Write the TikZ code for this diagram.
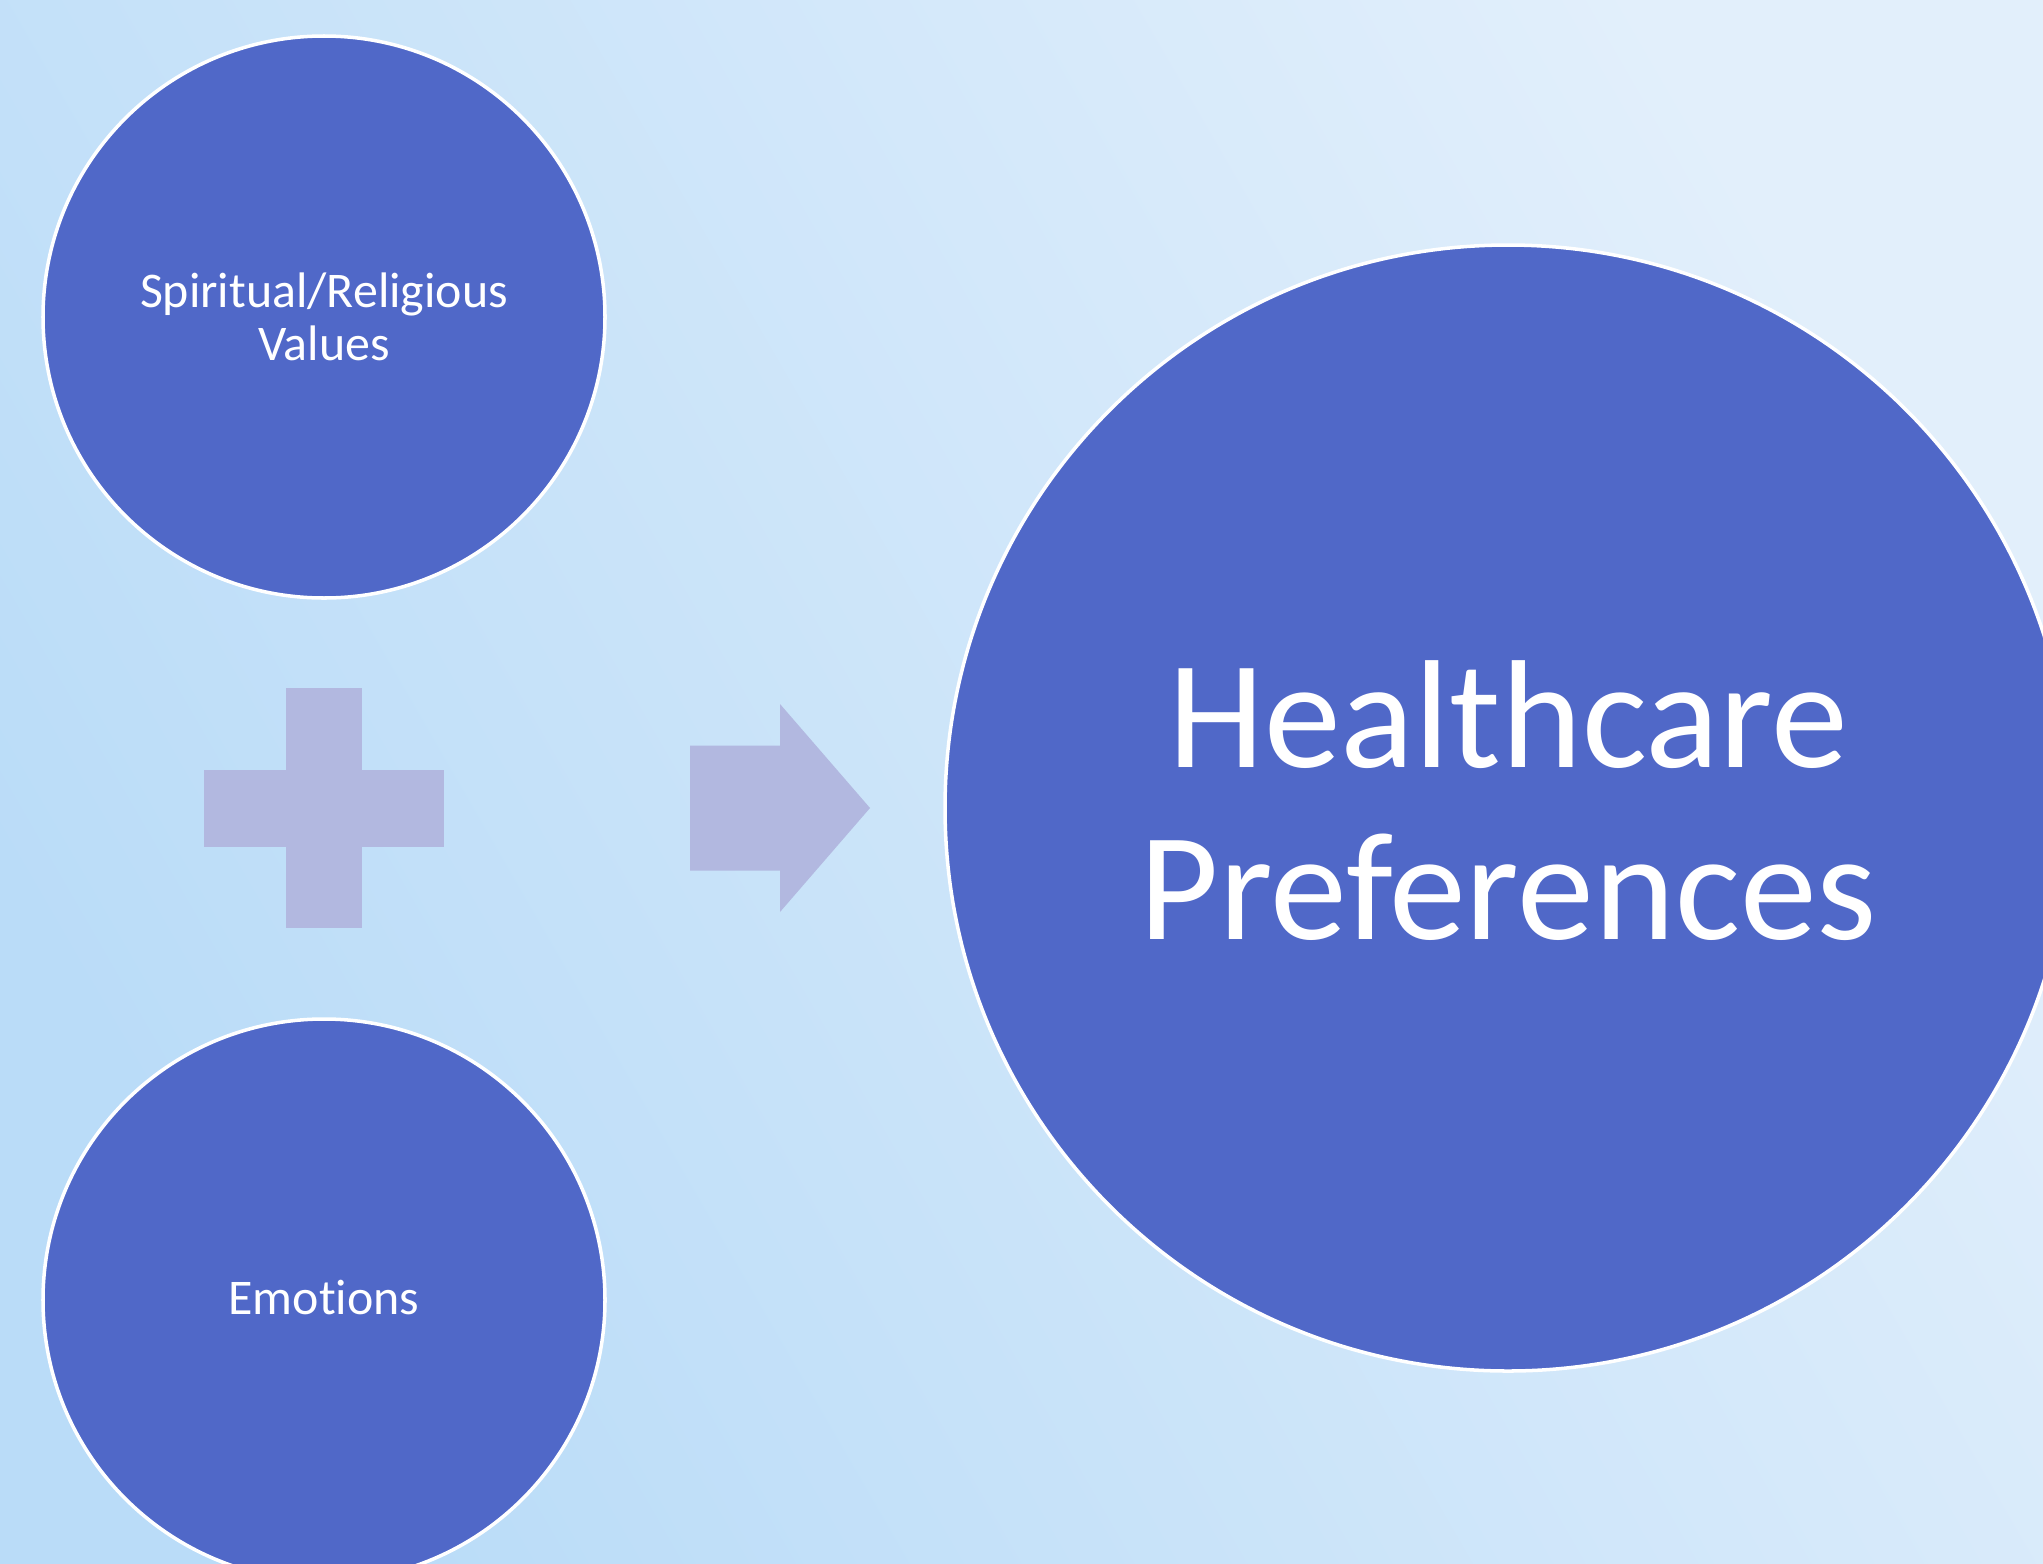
\documentclass[tikz,border=0pt]{standalone}
\usepackage{fontspec}
\setmainfont{Carlito}[Ligatures={NoCommon}]
\usetikzlibrary{positioning}
\definecolor{bglight}{RGB}{226,239,251}
\definecolor{bgdark}{RGB}{186,220,248}
\definecolor{discblue}{RGB}{80,104,200}
\definecolor{signlilac}{RGB}{178,184,224}

\begin{document}
\begin{tikzpicture}
    [
        x=0.1mm, y=-0.1mm, node distance=49.1mm, on grid,
        blue_node/.style={circle, draw=white, fill=discblue, line width=1pt, inner sep=0pt, minimum size=56.2mm, text=white, align=center},
        big_node/.style={blue_node, minimum size=112.6mm},
        bar_node/.style={rectangle, fill=signlilac, inner sep=0pt},
    ]
        \useasboundingbox (0,0) rectangle (2043,1563) ;
        \clip (0,0) rectangle (2043,1563) ;
        \shade[bottom color=bgdark, top color=bglight, shading angle=-60] (0,0) rectangle (2043,1563) ;
        \node[blue_node, font=\fontsize{14.2}{15}\selectfont] (spiritual) at (324,317) {Spiritual/Religious\\Values} ;
        \node[bar_node, minimum width=7.6mm, minimum height=24mm] (plus_v) [below = of spiritual] {} ;
        \node[bar_node, minimum width=24mm, minimum height=7.7mm] (plus_h) at (plus_v) {} ;
        \node[blue_node, font=\fontsize{14.2}{15}\selectfont, text depth=0.6mm] (emotions) [below = 49.2mm of plus_v] {Emotions} ;
        \node[big_node, font=\fontsize{43.8}{48.9}\selectfont, text depth=1.6mm] (prefs) at (1508,808) {Healthcare\\Preferences} ;
        \coordinate (arrow_base) at (780,808) ;
        \fill[signlilac, shift={(arrow_base)}] (-90,-62.5) -- (0,-62.5) -- (0,-104) -- (90,0) -- (0,104) -- (0,62.5) -- (-90,62.5) -- cycle ;
    \end{tikzpicture}
\end{document}
